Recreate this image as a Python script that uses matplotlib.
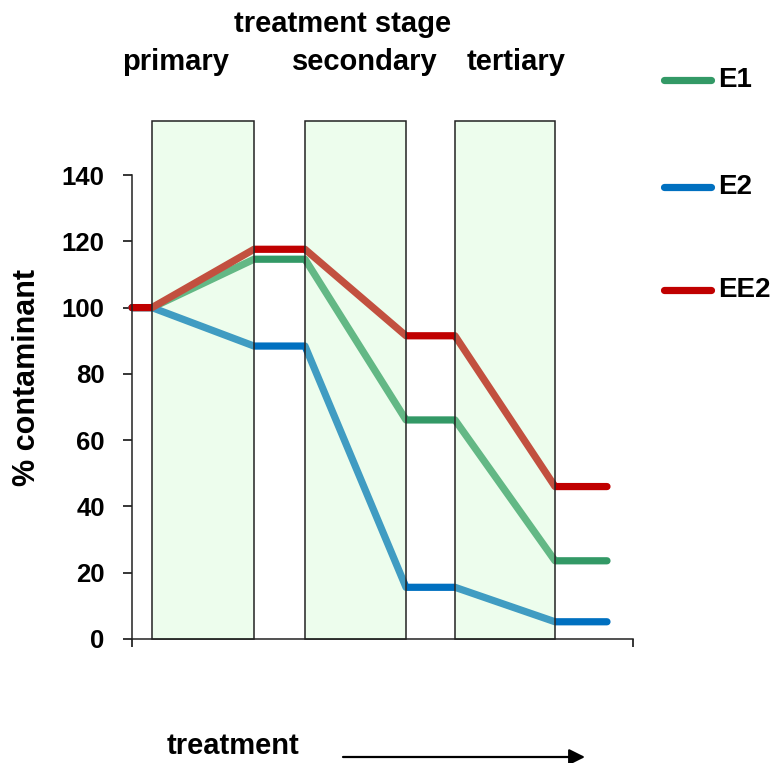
import matplotlib.pyplot as plt

plt.rcParams['font.family'] = ['Liberation Sans', 'DejaVu Sans']
plt.rcParams['font.weight'] = 'bold'

# position along the treatment train (start, stage entries/exits, end)
passo_x = [0, 20, 122, 173, 274, 323, 423, 475]

# % of the influent contaminant remaining after each step
e1 = [100, 100, 114.6, 114.6, 66.1, 66.1, 23.6, 23.6]
e2 = [100, 100, 88.4, 88.4, 15.6, 15.6, 5.2, 5.2]
ee2 = [100, 100, 117.6, 117.6, 91.5, 91.5, 46.0, 46.0]

series = ['E1', 'E2', 'EE2']
cores = ['#339966', '#0070C0', '#C00000']

# treatment stages (begin, end) on the same axis
estagios = ['primary', 'secondary', 'tertiary']
limites = [(20, 122), (173, 274), (323, 423)]

yticks = [0, 20, 40, 60, 80, 100, 120, 140]

W, H = 782, 763
fig = plt.figure(figsize=(W / 100, H / 100), dpi=100)
ax = fig.add_axes([132 / W, (H - 639) / H, 501 / W, (639 - 120.7) / H])

for valores, cor in zip([e1, e2, ee2], cores):
    ax.plot(passo_x, valores, color=cor, lw=5.2, solid_capstyle='round',
            solid_joinstyle='round', zorder=2, clip_on=False)

# translucent stage boxes drawn over the lines
for x0, x1 in limites:
    ax.axvspan(x0, x1, facecolor=(0.79, 0.98, 0.78, 0.32),
               edgecolor='#222222', lw=1.1, zorder=3, clip_on=False)

ax.set_xlim(0, 501)
ax.set_ylim(0, 156.4)
ax.set_yticks(yticks)
ax.set_yticklabels([str(v) for v in yticks])
ax.set_xticks([0, 501])
ax.set_xticklabels(['', ''])
ax.tick_params(axis='y', direction='out', length=6.7, width=1.1, pad=13,
               labelsize=18.5, colors='black')
ax.tick_params(axis='x', direction='out', length=6, width=1.1)
for lado in ['top', 'right']:
    ax.spines[lado].set_visible(False)
for lado in ['left', 'bottom']:
    ax.spines[lado].set_linewidth(1.1)
    ax.spines[lado].set_color('#222222')
ax.spines['left'].set_bounds(0, 140)


def fx(px):
    return px / W


def fy(py):
    return 1 - py / H


fig.text(fx(343), fy(32), 'treatment stage', ha='center', va='baseline',
         fontsize=21, fontweight='bold')
for nome, cx in zip(estagios, [176, 365, 516]):
    fig.text(fx(cx), fy(70), nome, ha='center', va='baseline',
             fontsize=21, fontweight='bold')

fig.text(fx(27), fy(378), '% contaminant', rotation=90, ha='center',
         va='center', fontsize=22, fontweight='bold')

fig.text(fx(167), fy(754), 'treatment', ha='left', va='baseline',
         fontsize=21, fontweight='bold')
ax.annotate('', xy=(585, H - 757), xytext=(343, H - 757),
            xycoords='figure pixels', textcoords='figure pixels',
            arrowprops=dict(arrowstyle='-|>', lw=1.6, color='black',
                            mutation_scale=24, shrinkA=0, shrinkB=0))

# legend entries stacked down the right side
for nome, cor, ly in zip(series, cores, [80, 187, 290]):
    fig.add_artist(plt.Line2D([fx(664), fx(711)], [fy(ly), fy(ly)],
                              color=cor, lw=5.2, solid_capstyle='round'))
    fig.text(fx(718), fy(ly), nome, ha='left', va='center',
             fontsize=20, fontweight='bold')

fig.savefig('out.png', dpi=100)
